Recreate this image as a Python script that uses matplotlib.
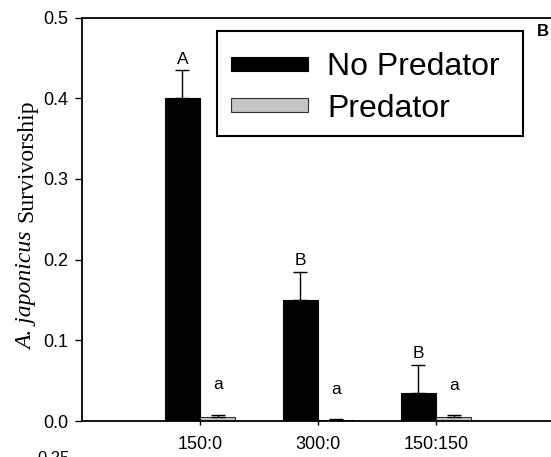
import matplotlib.pyplot as plt
from matplotlib.patches import Rectangle
import numpy as np

plt.rcParams['font.family'] = ['Liberation Sans', 'DejaVu Sans']

treatments = ["150:0", "300:0", "150:150"]
no_pred = [0.40, 0.15, 0.035]
no_pred_err = [0.035, 0.035, 0.035]
pred = [0.005, 0.001, 0.005]
pred_err = [0.003, 0.001, 0.002]
letters_np = ["A", "B", "B"]
letters_p = ["a", "a", "a"]

W, H = 551, 457
fig = plt.figure(figsize=(W / 100, H / 100), dpi=100)
ax = fig.add_axes([82 / W, 1 - 421 / H, 472 / W, 403.5 / H])

x = np.arange(1, len(treatments) + 1)
w = 0.3
ax.bar(x - w / 2, no_pred, w, color="black", edgecolor="black", linewidth=0.8,
       yerr=[np.zeros(3), no_pred_err], capsize=5,
       error_kw=dict(elinewidth=1, capthick=1, ecolor="black"),
       label="No Predator", zorder=2)
ax.bar(x + w / 2, pred, w, color="#c4c4c4", edgecolor="#333333", linewidth=0.8,
       yerr=[np.zeros(3), pred_err], capsize=5,
       error_kw=dict(elinewidth=1, capthick=1, ecolor="black"),
       label="Predator", zorder=2)

for i in range(3):
    ax.text(x[i] - w / 2, no_pred[i] + no_pred_err[i] + 0.004, letters_np[i],
            ha="center", va="bottom", fontsize=12.5)
    ax.text(x[i] + w / 2, pred[i] + pred_err[i] + 0.028, letters_p[i],
            ha="center", va="bottom", fontsize=12.5)

ax.set_xlim(0, 4)
ax.set_ylim(0, 0.5)
ax.set_xticks(x)
ax.set_xticklabels(treatments, fontsize=13)
ax.set_yticks([0, 0.1, 0.2, 0.3, 0.4, 0.5])
ax.set_yticklabels(["0.0", "0.1", "0.2", "0.3", "0.4", "0.5"], fontsize=13)
ax.tick_params(axis="y", direction="out", length=5, width=1, pad=5)
ax.tick_params(axis="x", direction="out", length=3, width=1, pad=8)
ax.spines["right"].set_visible(False)
for s in ["left", "top", "bottom"]:
    ax.spines[s].set_linewidth(1.3)

# y label: italic species name followed by upright word, serif
lab_size = 17
t1 = fig.text(27 / W, 1 - 350 / H, "A. japonicus", family="Liberation Serif", style="italic",
              fontsize=lab_size, rotation=90, ha="center", va="bottom")
fig.canvas.draw()
top = t1.get_window_extent().y1
gap = lab_size * 0.4 * 100 / 72
fig.text(27 / W, (top + gap) / H, "Survivorship", family="Liberation Serif",
         fontsize=lab_size, rotation=90, ha="center", va="bottom")

leg = ax.legend(loc="upper left", bbox_to_anchor=((217 - 82) / 472, 1 - (38 - 17.5) / 403.5),
                fontsize=23, frameon=False,
                handlelength=2.4, handleheight=0.28, borderpad=0.45, labelspacing=0.35,
                handletextpad=0.6, borderaxespad=0)
fig.patches.append(Rectangle((217 / W, 1 - 136 / H), 306 / W, 105 / H, transform=fig.transFigure,
                             fill=False, edgecolor="black", linewidth=1.5))

fig.text(537 / W, 1 - 31 / H, "B", fontsize=12, fontweight="bold", ha="left", va="center")
fig.text(37 / W, 1 - 451 / H, "0.25", fontsize=12, ha="left", va="top")

fig.savefig("out.png", dpi=100)
